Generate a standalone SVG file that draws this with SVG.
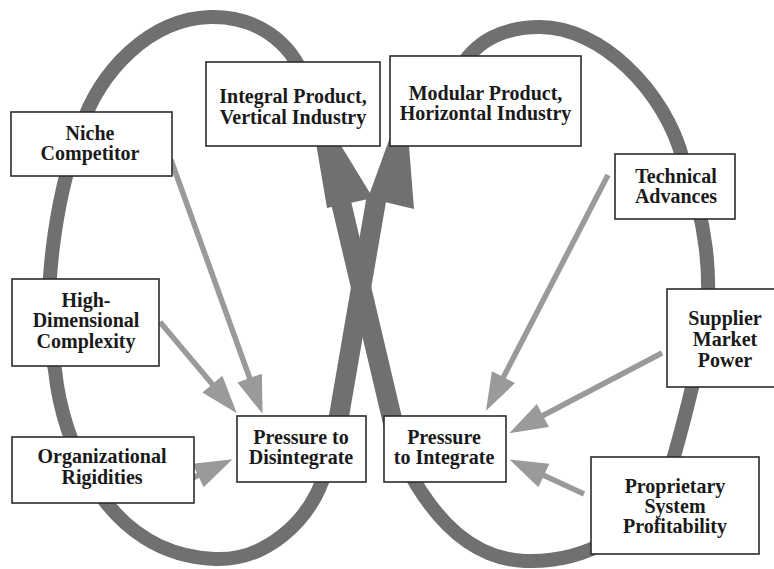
<svg xmlns="http://www.w3.org/2000/svg" width="774" height="569" viewBox="0 0 774 569">
  <style>
    .band { fill: none; stroke: #707070; stroke-width: 14; stroke-linecap: butt; stroke-linejoin: round; }
    .leg { fill: none; stroke: #707070; stroke-width: 20; stroke-linecap: butt; }
    .bighead { fill: #707070; }
    .force { fill: none; stroke: #9a9a9a; stroke-width: 5.5; stroke-linecap: butt; }
    .box { fill: #ffffff; stroke: #2b2b2b; stroke-width: 1.6; }
    .label { font-family: "Liberation Serif", "Times New Roman", serif; font-weight: bold; font-size: 20px; fill: #1a1a1a; text-anchor: middle; }
  </style>
  <defs>
    <marker id="head" markerUnits="userSpaceOnUse" markerWidth="40" markerHeight="26" refX="1" refY="13" orient="auto" overflow="visible">
      <path d="M0,0 L38,13 L0,26 Z" fill="#9a9a9a"/>
    </marker>
  </defs>

  <!-- connectors: the double loop and the driving forces -->
  <g id="connectors">
    <!-- left loop: Integral -> outer left arc -> Pressure to Disintegrate -> Modular -->
    <path class="band" d="M305,80 C290,40 255,16 210,17 C150,19 100,70 80,130 C55,200 40,300 55,370 C62,440 105,555 215,559 C262,561 310,525 326,470"/>
    <path class="leg" d="M328,480 L377,195"/>
    <polygon class="bighead" points="368,198 414,209 405,96"/>

    <!-- right loop: Modular -> outer right arc -> Pressure to Integrate -> Integral -->
    <path class="band" d="M458,72 C475,40 505,27 540,27 C600,27 665,90 683,160 C705,215 715,280 703,340 C693,385 685,420 670,470 C645,535 580,563 525,561 C475,559 436,525 404,462"/>
    <path class="leg" d="M406,478 L340,198"/>
    <polygon class="bighead" points="327,208 373,198 307,90"/>

    <!-- forces toward disintegration -->
    <path class="force" d="M171,160 L250,379" marker-end="url(#head)"/>
    <path class="force" d="M160,322 L213,385" marker-end="url(#head)"/>
    <path class="force" d="M154,496 L199,475" marker-end="url(#head)"/>

    <!-- forces toward integration -->
    <path class="force" d="M608,175 L503,378" marker-end="url(#head)"/>
    <path class="force" d="M662,353 L542,416" marker-end="url(#head)"/>
    <path class="force" d="M584,494 L543,475" marker-end="url(#head)"/>
  </g>

  <g id="integral">
    <rect class="box" x="206" y="62" width="174" height="84"/>
    <text class="label" x="293" y="103">Integral Product,</text>
    <text class="label" x="293" y="124">Vertical Industry</text>
  </g>

  <g id="modular">
    <rect class="box" x="390" y="56" width="191" height="90"/>
    <text class="label" x="485.5" y="100">Modular Product,</text>
    <text class="label" x="485.5" y="120">Horizontal Industry</text>
  </g>

  <g id="niche">
    <rect class="box" x="11" y="112" width="161" height="64"/>
    <text class="label" x="90" y="140">Niche</text>
    <text class="label" x="90" y="160">Competitor</text>
  </g>

  <g id="complexity">
    <rect class="box" x="12" y="279" width="147" height="87"/>
    <text class="label" x="86" y="307">High-</text>
    <text class="label" x="86" y="327">Dimensional</text>
    <text class="label" x="86" y="348">Complexity</text>
  </g>

  <g id="rigidities">
    <rect class="box" x="12" y="437" width="182" height="66"/>
    <text class="label" x="102" y="463">Organizational</text>
    <text class="label" x="102" y="484">Rigidities</text>
  </g>

  <g id="disintegrate">
    <rect class="box" x="237" y="416" width="129" height="66"/>
    <text class="label" x="301" y="444">Pressure to</text>
    <text class="label" x="301" y="464">Disintegrate</text>
  </g>

  <g id="integrate">
    <rect class="box" x="384" y="416" width="122" height="66"/>
    <text class="label" x="444" y="444">Pressure</text>
    <text class="label" x="444" y="464">to Integrate</text>
  </g>

  <g id="technical">
    <rect class="box" x="615" y="154" width="120" height="65"/>
    <text class="label" x="676" y="183">Technical</text>
    <text class="label" x="676" y="203">Advances</text>
  </g>

  <g id="supplier">
    <rect class="box" x="667" y="289" width="116" height="98"/>
    <text class="label" x="725" y="325">Supplier</text>
    <text class="label" x="725" y="346">Market</text>
    <text class="label" x="725" y="367">Power</text>
  </g>

  <g id="proprietary">
    <rect class="box" x="591" y="457" width="168" height="97"/>
    <text class="label" x="675" y="493">Proprietary</text>
    <text class="label" x="675" y="513">System</text>
    <text class="label" x="675" y="533">Profitability</text>
  </g>
</svg>
